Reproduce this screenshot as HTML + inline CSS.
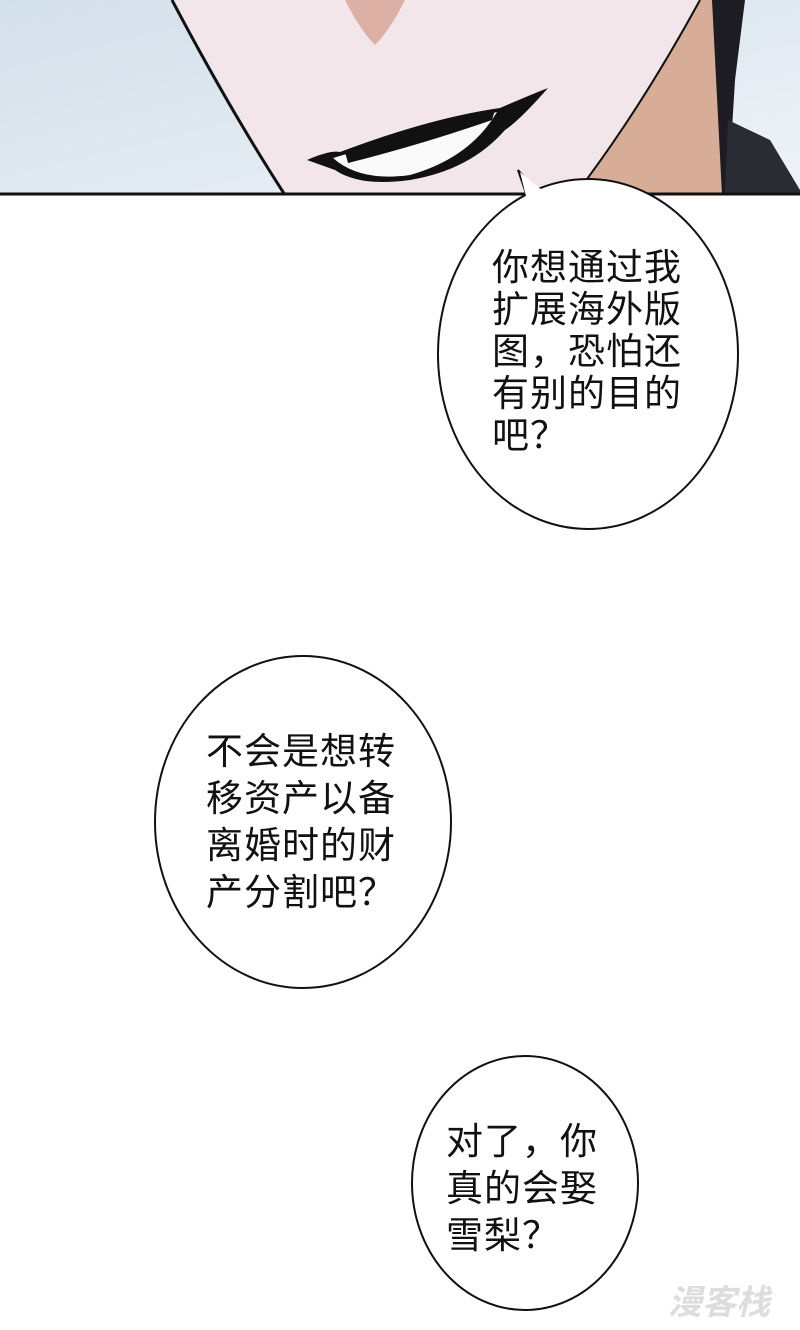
<!DOCTYPE html>
<html><head><meta charset="utf-8"><style>
body{margin:0;width:800px;height:1330px;background:#fff;overflow:hidden;position:relative;font-family:"Liberation Sans","Noto Sans CJK SC",sans-serif;}
.t{position:absolute;font-size:37px;line-height:42px;color:#111;letter-spacing:1px;}
</style></head><body>
<svg width="800" height="1330" style="position:absolute;left:0;top:0">
<defs><linearGradient id="bg" x1="0" y1="0" x2="1" y2="1"><stop offset="0" stop-color="#d3dfea"/><stop offset="1" stop-color="#eef3f8"/></linearGradient></defs>
<rect x="0" y="0" width="800" height="195" fill="url(#bg)"/>
<path d="M172,0 L700,0 Q640,110 575,195 L285,195 Z" fill="#f3e6ea"/>
<path d="M700,0 L718,0 L725,195 L575,195 Q640,110 700,0Z" fill="#d8ad98"/>
<path d="M712,0 L745,0 L735,80 L728,195 L722,195 Z" fill="#1c1c22"/>
<path d="M725,190 L728,120 L770,140 L800,190 L800,195 L725,195Z" fill="#2a2c34"/>
<path d="M345,0 L405,0 Q390,30 375,45 Q360,30 345,0Z" fill="#dcb0a5"/>
<path d="M172,0 Q230,110 285,195" stroke="#111" stroke-width="3" fill="none"/>
<path d="M700,0 Q640,110 575,195" stroke="#111" stroke-width="2" fill="none"/>
<path d="M307,160 Q330,150 340,152 Q430,118 500,108 Q530,95 548,88 Q520,120 505,130 Q470,170 410,180 Q360,187 335,170 Z" fill="#111"/>
<path d="M333,158 Q420,132 497,112 Q470,158 410,175 Q360,182 333,158Z" fill="#fafafa"/>
<path d="M345,152 Q420,128 495,110 L492,120 Q420,145 348,163Z" fill="#111"/>
<line x1="0" y1="194" x2="800" y2="194" stroke="#111" stroke-width="3"/>
<path d="M518,170 L530,205 L545,200 Z" fill="#fff" stroke="#111" stroke-width="2"/>
<ellipse cx="588" cy="354" rx="150" ry="175" fill="#fff" stroke="#111" stroke-width="2"/>
<path d="M520,172 L527,200 L548,195Z" fill="#fff"/>
<ellipse cx="303" cy="822" rx="148" ry="166" fill="#fff" stroke="#111" stroke-width="2"/>
<ellipse cx="525" cy="1183" rx="113" ry="127" fill="#fff" stroke="#111" stroke-width="2"/>
</svg>
<div class="t" style="left:492px;top:247px">你想通过我<br>扩展海外版<br>图，恐怕还<br>有别的目的<br>吧？</div>
<div class="t" style="left:206px;top:728px;line-height:47px">不会是想转<br>移资产以备<br>离婚时的财<br>产分割吧？</div>
<div class="t" style="left:446px;top:1118px;line-height:47px">对了，你<br>真的会娶<br>雪梨？</div>
<div style="position:absolute;left:668px;top:1275px;font-size:34px;font-weight:bold;color:#ddd;font-style:italic">漫客栈</div>
</body></html>
